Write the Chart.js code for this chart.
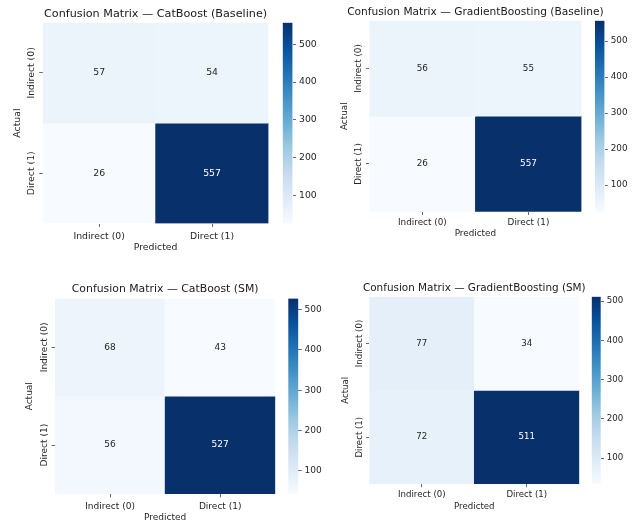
<!DOCTYPE html>
<html>
<head>
<meta charset="utf-8">
<script src="https://cdn.jsdelivr.net/npm/chart.js@4.4.0/dist/chart.umd.min.js"></script>
<style>
  body { margin: 0; background: #fff; }
  #wrap { position: relative; width: 638px; height: 522px; overflow: hidden; background: #fff; }
  #wrap canvas { position: absolute; }
</style>
</head>
<body>
<div id="wrap"></div>
<script>
/* Datos de las matrices */
const predictedLabels = ['Indirect (0)', 'Direct (1)'];
const actualLabels = ['Indirect (0)', 'Direct (1)'];
const colorbarTicks = [100, 200, 300, 400, 500];

const titleCatBoostBaseline = 'Confusion Matrix \u2014 CatBoost (Baseline)';
const titleGradBoostBaseline = 'Confusion Matrix \u2014 GradientBoosting (Baseline)';
const titleCatBoostSM = 'Confusion Matrix \u2014 CatBoost (SM)';
const titleGradBoostSM = 'Confusion Matrix \u2014 GradientBoosting (SM)';

const cmCatBoostBaseline = [[57, 54], [26, 557]];
const cmGradBoostBaseline = [[56, 55], [26, 557]];
const cmCatBoostSM = [[68, 43], [56, 527]];
const cmGradBoostSM = [[77, 34], [72, 511]];

/* Blues colormap */
const bluesStops = ['#f7fbff', '#deebf7', '#c6dbef', '#9ecae1', '#6baed6', '#4292c6', '#2171b5', '#08519c', '#08306b'];

const hexToRgb = (h) => [1, 3, 5].map((i) => parseInt(h.substr(i, 2), 16));

const blues = (t) => {
  t = Math.max(0, Math.min(1, t));
  const x = t * (bluesStops.length - 1);
  const i = Math.min(Math.floor(x), bluesStops.length - 2);
  const f = x - i;
  const a = hexToRgb(bluesStops[i]);
  const b = hexToRgb(bluesStops[i + 1]);
  const c = a.map((v, k) => Math.round(v + (b[k] - v) * f));
  return `rgb(${c[0]}, ${c[1]}, ${c[2]})`;
};

const luminance = (rgbStr) => {
  const c = rgbStr.match(/\d+/g).map((v) => {
    v = v / 255;
    return v <= 0.03928 ? v / 12.92 : Math.pow((v + 0.055) / 1.055, 2.4);
  });
  return 0.2126 * c[0] + 0.7152 * c[1] + 0.0722 * c[2];
};

Chart.defaults.font.family = "'DejaVu Sans', sans-serif";
Chart.defaults.color = '#262626';

const FONT = "'DejaVu Sans', sans-serif";
const TICK_COLOR = '#444';

/* Textos: titulo, etiquetas de ejes y anotaciones */
const cmTextPlugin = {
  id: 'cmText',
  afterDraw(chart, args, opts) {
    const ctx = chart.ctx;
    const a = chart.chartArea;
    const y = chart.scales.y;
    const cx = (a.left + a.right) / 2;
    ctx.save();
    ctx.textAlign = 'center';
    ctx.textBaseline = 'middle';
    ctx.fillStyle = '#1a1a1a';
    ctx.font = `${opts.titleSize}px ${FONT}`;
    ctx.fillText(opts.title, cx, a.top - opts.titleOff);

    ctx.fillStyle = '#262626';
    ctx.font = `${opts.size}px ${FONT}`;
    ctx.fillText('Predicted', cx, a.bottom + opts.xlabOff);

    actualLabels.forEach((lab, i) => {
      ctx.save();
      ctx.translate(a.left - opts.ytickOff, y.getPixelForValue(i + 0.5));
      ctx.rotate(-Math.PI / 2);
      ctx.fillText(lab, 0, 0);
      ctx.restore();
    });

    ctx.save();
    ctx.translate(a.left - opts.ylabOff, (a.top + a.bottom) / 2);
    ctx.rotate(-Math.PI / 2);
    ctx.fillText('Actual', 0, 0);
    ctx.restore();

    const m = opts.matrix;
    const vmin = Math.min(...m.flat());
    const vmax = Math.max(...m.flat());
    m.forEach((row, r) => {
      chart.getDatasetMeta(r).data.forEach((bar, c) => {
        const col = blues((row[c] - vmin) / (vmax - vmin));
        ctx.fillStyle = luminance(col) > 0.408 ? '#262626' : '#ffffff';
        ctx.fillText(String(row[c]), bar.x, (bar.y + bar.base) / 2);
      });
    });
    ctx.restore();
  },
};

const panels = [
  { title: titleCatBoostBaseline, matrix: cmCatBoostBaseline, box: [0, 0, 290, 262],
    heat: [42.7, 22.7, 268.5, 223.5], cb: [282.7, 292.5], s: 1.0,
    titleOff: 8.7, xtickPad: 3.9, xlabOff: 23.8, ytickOff: 11.5, ylabOff: 24.7 },
  { title: titleGradBoostBaseline, matrix: cmGradBoostBaseline, box: [320, 0, 318, 262],
    heat: [369.3, 20.7, 581.5, 211.7], cb: [595, 604.5], s: 0.95,
    titleOff: 8, xtickPad: 2.8, xlabOff: 21.9, ytickOff: 11, ylabOff: 24.3 },
  { title: titleCatBoostSM, matrix: cmCatBoostSM, box: [0, 262, 290, 260],
    heat: [55, 298.5, 275.3, 494], cb: [288.3, 298.3], s: 0.97,
    titleOff: 9, xtickPad: 3.6, xlabOff: 23.5, ytickOff: 10.5, ylabOff: 25 },
  { title: titleGradBoostSM, matrix: cmGradBoostSM, box: [320, 262, 318, 260],
    heat: [369.3, 296.7, 579.3, 484], cb: [591.7, 600.7], s: 0.93,
    titleOff: 8.4, xtickPad: 2.6, xlabOff: 22.3, ytickOff: 10, ylabOff: 23.3 },
];

const wrap = document.getElementById('wrap');

const makeCanvas = (left, top, w, h) => {
  const c = document.createElement('canvas');
  c.width = w;
  c.height = h;
  c.style.left = left + 'px';
  c.style.top = top + 'px';
  c.style.width = w + 'px';
  c.style.height = h + 'px';
  wrap.appendChild(c);
  return c;
};

panels.forEach((p) => {
  const [bx, by, bw, bh] = p.box;
  const [hl, ht, hr, hb] = p.heat;
  const size = 9.3 * p.s;
  const tl = 3.5 * p.s;
  const vals = p.matrix.flat();
  const vmin = Math.min(...vals);
  const vmax = Math.max(...vals);
  const xAxisH = by + bh - hb;

  /* Mapa de calor */
  const heatCanvas = makeCanvas(bx, by, bw, bh);
  new Chart(heatCanvas, {
    type: 'bar',
    data: {
      labels: predictedLabels,
      datasets: p.matrix.map((row, r) => ({
        data: row.map(() => [r, r + 1]),
        backgroundColor: row.map((v) => blues((v - vmin) / (vmax - vmin))),
        borderWidth: 0,
        grouped: false,
        categoryPercentage: 1,
        barPercentage: 1,
      })),
    },
    options: {
      responsive: false,
      animation: false,
      events: [],
      layout: {
        padding: { left: hl - bx, top: ht - by, right: bx + bw - hr, bottom: 0 },
      },
      plugins: {
        legend: { display: false },
        tooltip: { enabled: false },
        cmText: {
          title: p.title, matrix: p.matrix, size: size, titleSize: 11.2 * p.s,
          titleOff: p.titleOff, xlabOff: p.xlabOff, ytickOff: p.ytickOff, ylabOff: p.ylabOff,
        },
      },
      scales: {
        x: {
          grid: { offset: false, drawOnChartArea: false, tickLength: tl, color: TICK_COLOR, lineWidth: 0.8 },
          border: { display: false },
          ticks: { maxRotation: 0, minRotation: 0, autoSkip: false, padding: p.xtickPad, font: { size: size }, color: '#262626' },
          afterFit: (s) => { s.height = xAxisH; },
        },
        y: {
          min: 0,
          max: 2,
          reverse: true,
          grid: { drawOnChartArea: false, tickLength: tl, color: TICK_COLOR, lineWidth: 0.8 },
          border: { display: false },
          ticks: { display: false },
          afterBuildTicks: (s) => { s.ticks = actualLabels.map((_, i) => ({ value: i + 0.5 })); },
          afterFit: (s) => { s.width = 0; },
        },
      },
    },
    plugins: [cmTextPlugin],
  });

  /* Barra de color */
  const [cl, cr] = p.cb;
  const cbLeft = Math.floor(cl);
  const cbTop = Math.floor(ht) - 10;
  const cbW = Math.ceil(cr - cbLeft) + 30;
  const cbH = Math.ceil(hb - cbTop) + 10;
  const cbAxisW = cbW - (cr - cbLeft);
  const cbCanvas = makeCanvas(cbLeft, cbTop, cbW, cbH);
  new Chart(cbCanvas, {
    type: 'bar',
    data: {
      labels: [''],
      datasets: [{
        data: [[vmin, vmax]],
        backgroundColor: (c) => {
          const area = c.chart.chartArea;
          if (!area) return 'transparent';
          const g = c.chart.ctx.createLinearGradient(0, area.bottom, 0, area.top);
          bluesStops.forEach((col, i) => g.addColorStop(i / (bluesStops.length - 1), col));
          return g;
        },
        borderWidth: 0,
        categoryPercentage: 1,
        barPercentage: 1,
      }],
    },
    options: {
      responsive: false,
      animation: false,
      events: [],
      layout: {
        padding: { left: cl - cbLeft, top: ht - cbTop, right: 0, bottom: cbTop + cbH - hb },
      },
      plugins: { legend: { display: false }, tooltip: { enabled: false } },
      scales: {
        x: { display: false },
        y: {
          position: 'right',
          min: vmin,
          max: vmax,
          grid: { drawOnChartArea: false, tickLength: tl, color: TICK_COLOR, lineWidth: 0.8 },
          border: { display: false },
          ticks: { padding: 3 * p.s, font: { size: size }, color: '#262626' },
          afterBuildTicks: (s) => {
            s.ticks = colorbarTicks.filter((v) => v >= vmin && v <= vmax).map((v) => ({ value: v }));
          },
          afterFit: (s) => { s.width = cbAxisW; },
        },
      },
    },
  });
});
</script>
</body>
</html>
